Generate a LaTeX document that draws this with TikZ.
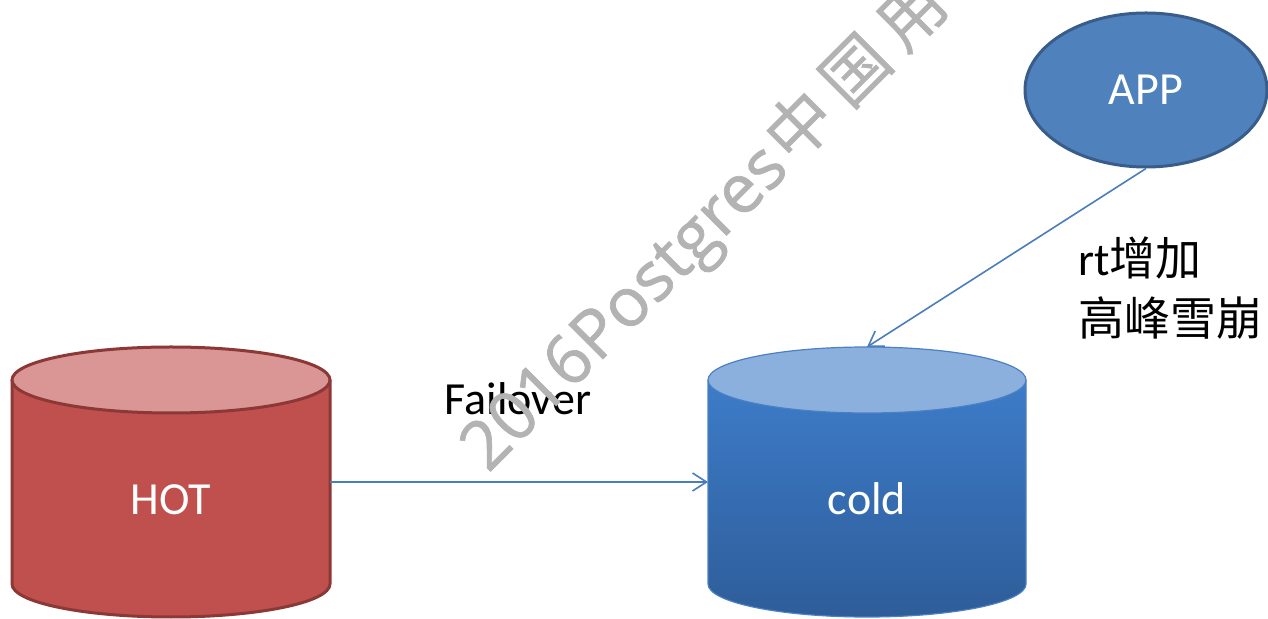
\documentclass[tikz,border=0pt]{standalone}
\usepackage{fontspec}
\setmainfont{Carlito}
\newfontfamily\cjkfont{Noto Sans CJK SC}
\newfontfamily\wmlatin[FakeBold=1]{Open Sans}
\newfontfamily\wmcjk[FakeBold=0.6]{Noto Sans CJK SC}
\usetikzlibrary{arrows.meta,shapes.geometric}
\definecolor{hotbody}{HTML}{C0504D}
\definecolor{hottop}{HTML}{D99694}
\definecolor{hotline}{HTML}{8C3836}
\definecolor{coldtop}{HTML}{8CB0DD}
\definecolor{coldhi}{HTML}{3D7CC9}
\definecolor{coldlo}{HTML}{2E5D99}
\definecolor{coldline}{HTML}{4A80C4}
\definecolor{appfill}{HTML}{4F81BD}
\definecolor{appline}{HTML}{385D8A}
\definecolor{arrowblue}{HTML}{4A7EBB}
\definecolor{wmgray}{HTML}{B3B3B3}
\tikzset{
  cylbox/.style={rectangle, draw=none, minimum width=318pt, minimum height=270pt, inner sep=0pt, outer sep=0pt},
  bigtext/.style={font=\fontsize{46pt}{55pt}\selectfont, inner sep=0pt},
  whitetext/.style={bigtext, text=white},
  conn/.style={draw=arrowblue, line width=1.6pt, -{Straight Barb[length=14pt,width=18pt]}},
  appnode/.style={ellipse, draw=appline, line width=3pt, fill=appfill, minimum width=242pt, minimum height=154pt, inner sep=0pt, text=white, font=\fontsize{46pt}{55pt}\selectfont},
  wmark/.style={font=\wmlatin\fontsize{68pt}{80pt}\selectfont, text=wmgray, inner sep=0pt}
}
\begin{document}
\begin{tikzpicture}[x=1pt,y=1pt]
\useasboundingbox (0,0) rectangle (1268,618);
\fill[white] (0,0) rectangle (1268,618);

% nodes
\node[cylbox] (hot) at (171,136) {};
\node[cylbox] (cold) at (867,136) {};
\node[appnode] (app) at (1146,528) {APP};

% HOT cylinder
\fill[hotbody] ([yshift=-33pt]hot.north west) -- ([yshift=33pt]hot.south west)
  arc[start angle=180, end angle=360, x radius=159pt, y radius=33pt]
  -- ([yshift=-33pt]hot.north east) -- cycle;
\draw[hotline, line width=3pt] ([yshift=-33pt]hot.north west) -- ([yshift=33pt]hot.south west)
  arc[start angle=180, end angle=360, x radius=159pt, y radius=33pt]
  -- ([yshift=-33pt]hot.north east);
\draw[hotline, fill=hottop, line width=3pt] ([yshift=-33pt]hot.north) ellipse[x radius=159pt, y radius=33pt];

% cold cylinder
\shade[top color=coldhi, bottom color=coldlo] ([yshift=-33pt]cold.north west) -- ([yshift=33pt]cold.south west)
  arc[start angle=180, end angle=360, x radius=159pt, y radius=33pt]
  -- ([yshift=-33pt]cold.north east) -- cycle;
\draw[coldline, line width=1.2pt] ([yshift=-33pt]cold.north west) -- ([yshift=33pt]cold.south west)
  arc[start angle=180, end angle=360, x radius=159pt, y radius=33pt]
  -- ([yshift=-33pt]cold.north east);
\draw[coldline, fill=coldtop, line width=1.2pt] ([yshift=-33pt]cold.north) ellipse[x radius=159pt, y radius=33pt];

% texts
\node[whitetext, anchor=base] (hottxt) at (171,103) {HOT};
\node[whitetext, anchor=base] (coldtxt) at (867,103) {cold};
\node[bigtext, anchor=base] (fo) at (518,203) {Failover};
\node[bigtext, anchor=base west] (rt1) at (1078,342) {rt{\cjkfont 增加}};
\node[bigtext, anchor=base west] (rt2) at (1078,282) {\cjkfont 高峰雪崩};

% connectors
\draw[conn] (hot.east) -- (cold.west);
\draw[conn] (app.south) -- (cold.north);

% watermark
\node[wmark, rotate=45, anchor=base west] (wm) at (488,144)
  {2016Postgres\hspace{5pt}\raisebox{2pt}{\wmcjk\fontsize{66pt}{74pt}\selectfont 中\hspace{13pt}国\hspace{13pt}用}};
\end{tikzpicture}
\end{document}
